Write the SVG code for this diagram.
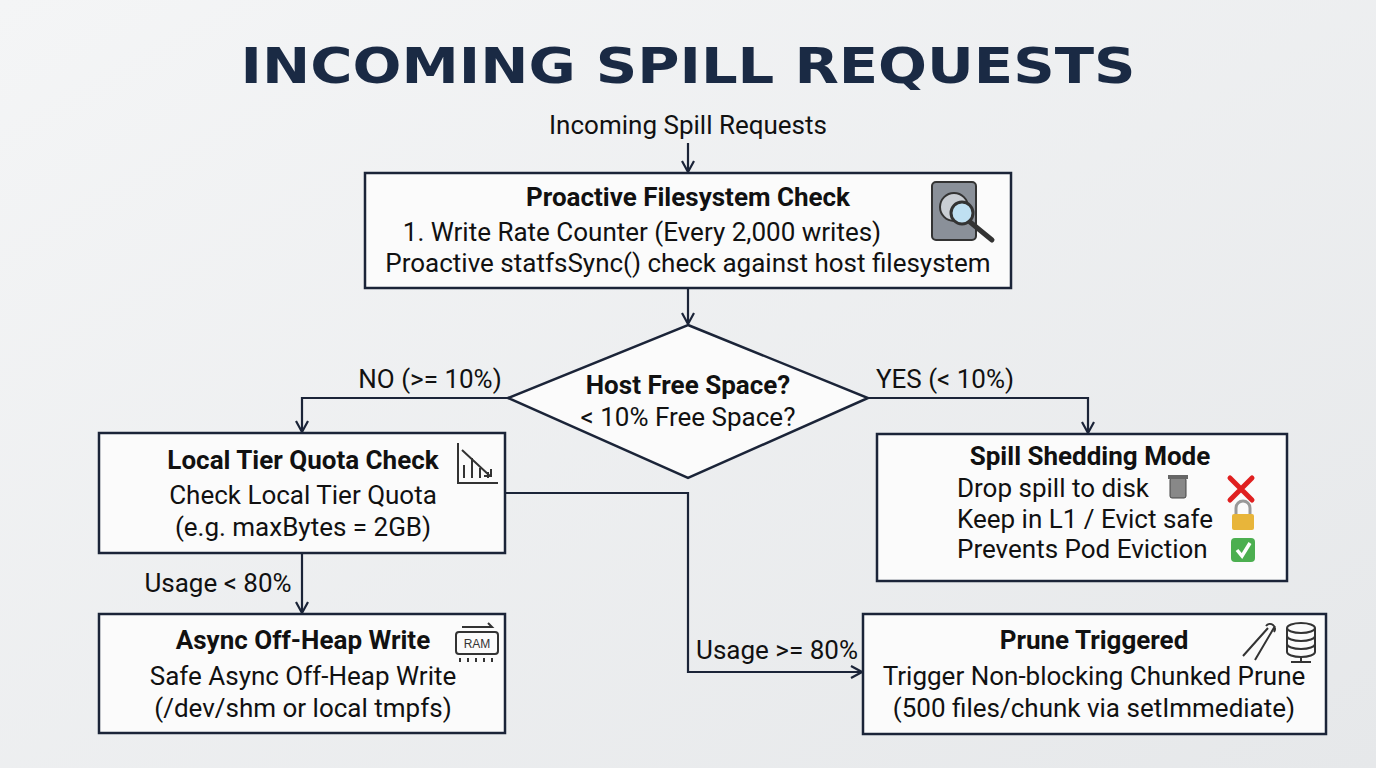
<svg xmlns="http://www.w3.org/2000/svg" width="1376" height="768" viewBox="0 0 1376 768">
<defs>
<linearGradient id="bg" x1="0" y1="0" x2="1" y2="1"><stop offset="0" stop-color="#f4f5f6"/><stop offset="1" stop-color="#e6e8ea"/></linearGradient>
<marker id="ar" markerWidth="14" markerHeight="14" refX="11" refY="7" orient="auto" markerUnits="userSpaceOnUse"><path d="M1,1 L12,7 L1,13" fill="none" stroke="#1b2438" stroke-width="2.2"/></marker>
<style>
.box{fill:#fbfbfb;stroke:#1b2438;stroke-width:2.5}
.t{font-family:Roboto,"Liberation Sans",sans-serif;font-size:26px;fill:#111;text-anchor:middle}
.b{font-weight:bold}
.l{text-anchor:start}
.c{fill:none;stroke:#1b2438;stroke-width:2.2}
.ic{fill:none;stroke:#333;stroke-width:2}
</style>
</defs>
<rect width="1376" height="768" fill="url(#bg)"/>
<text x="688" y="83" font-family="'DejaVu Sans',sans-serif" font-weight="bold" font-size="50" fill="#1a2a44" text-anchor="middle" textLength="895" lengthAdjust="spacingAndGlyphs">INCOMING SPILL REQUESTS</text>
<text class="t" x="688" y="134">Incoming Spill Requests</text>

<g id="connectors">
<line class="c" x1="688" y1="143" x2="688" y2="171" marker-end="url(#ar)"/>
<line class="c" x1="688" y1="289" x2="688" y2="323" marker-end="url(#ar)"/>
<polyline class="c" points="508,398 302,398 302,431" marker-end="url(#ar)"/>
<polyline class="c" points="868,398 1088,398 1088,432" marker-end="url(#ar)"/>
<line class="c" x1="302" y1="553" x2="302" y2="612" marker-end="url(#ar)"/>
<polyline class="c" points="505,493 688,493 688,672 861,672" marker-end="url(#ar)"/>
<text class="t" x="430" y="388">NO (&gt;= 10%)</text>
<text class="t" x="945" y="388">YES (&lt; 10%)</text>
<text class="t" x="218" y="592">Usage &lt; 80%</text>
<text class="t" x="777" y="659">Usage &gt;= 80%</text>
</g>

<g id="check">
<rect class="box" x="365" y="173" width="646" height="115"/>
<text class="t b" x="688" y="206">Proactive Filesystem Check</text>
<text class="t" x="642" y="241">1. Write Rate Counter (Every 2,000 writes)</text>
<text class="t" x="688" y="272">Proactive statfsSync() check against host filesystem</text>
<rect x="932" y="182" width="44" height="58" rx="4" fill="#8a9099" stroke="#333" stroke-width="2"/>
<circle cx="954" cy="207" r="14" fill="#c9ced4" stroke="#333" stroke-width="2"/>
<circle cx="962" cy="213" r="11" fill="#bfe0f2" stroke="#333" stroke-width="3"/>
<line x1="970" y1="222" x2="992" y2="240" stroke="#333" stroke-width="5" stroke-linecap="round"/>
</g>

<g id="decision">
<polygon points="688,325 868,398 688,478 508,398" fill="#fbfbfb" stroke="#1b2438" stroke-width="2.5"/>
<text class="t b" x="688" y="394">Host Free Space?</text>
<text class="t" x="688" y="426">&lt; 10% Free Space?</text>
</g>

<g id="local">
<rect class="box" x="99" y="433" width="406" height="120"/>
<text class="t b" x="303" y="469">Local Tier Quota Check</text>
<text class="t" x="303" y="504">Check Local Tier Quota</text>
<text class="t" x="303" y="536">(e.g. maxBytes = 2GB)</text>
<path class="ic" d="M458,443 V483 H498 M464,478 V465 M472,478 V458 M480,478 V468 M488,478 V472 M462,450 L490,476 M484,476 H491 V469"/>
</g>

<g id="async">
<rect class="box" x="99" y="614" width="406" height="119"/>
<text class="t b" x="303" y="649">Async Off-Heap Write</text>
<text class="t" x="303" y="685">Safe Async Off-Heap Write</text>
<text class="t" x="303" y="717">(/dev/shm or local tmpfs)</text>
<rect x="456" y="632" width="42" height="22" rx="3" class="ic"/>
<text x="477" y="648" font-family="'Liberation Sans',sans-serif" font-size="12" text-anchor="middle" fill="#333">RAM</text>
<path class="ic" d="M460,658 V662 M468,658 V662 M476,658 V662 M484,658 V662 M492,658 V662 M462,627 H492 L488,623"/>
</g>

<g id="shed">
<rect class="box" x="877" y="434" width="410" height="147"/>
<text class="t b" x="1090" y="465">Spill Shedding Mode</text>
<text class="t l" x="957" y="497">Drop spill to disk</text>
<text class="t l" x="957" y="528">Keep in L1 / Evict safe</text>
<text class="t l" x="957" y="558">Prevents Pod Eviction</text>
<rect x="1170" y="478" width="16" height="20" rx="2" fill="#888" stroke="#444"/>
<rect x="1168" y="475" width="20" height="4" fill="#666"/>
<path d="M1230,478 L1252,500 M1252,478 L1230,500" stroke="#e02020" stroke-width="5" stroke-linecap="round"/>
<path d="M1236,514 V508 a7,7 0 0 1 14,0 V514" fill="none" stroke="#999" stroke-width="3"/>
<rect x="1232" y="514" width="22" height="16" rx="2" fill="#e8b53a"/>
<rect x="1231" y="538" width="24" height="24" rx="4" fill="#4caf50"/>
<path d="M1237,550 L1242,556 L1250,543" fill="none" stroke="#fff" stroke-width="3.5"/>
</g>

<g id="prune">
<rect class="box" x="863" y="614" width="463" height="120"/>
<text class="t b" x="1094" y="649">Prune Triggered</text>
<text class="t" x="1094" y="685">Trigger Non-blocking Chunked Prune</text>
<text class="t" x="1094" y="717">(500 files/chunk via setImmediate)</text>
<path class="ic" d="M1243,656 L1268,628 M1255,660 L1275,626 M1266,626 a5,5 0 1 1 8,6"/>
<ellipse cx="1301" cy="628" rx="14" ry="5" class="ic"/>
<path class="ic" d="M1287,628 V652 a14,5 0 0 0 28,0 V628 M1287,636 a14,5 0 0 0 28,0 M1287,644 a14,5 0 0 0 28,0 M1301,657 V662 M1291,662 H1311"/>
</g>
</svg>
